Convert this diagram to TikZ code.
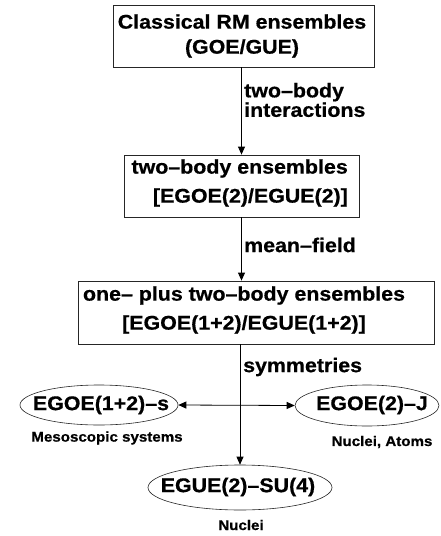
\documentclass[tikz,border=0pt]{standalone}
\usepackage{fontspec}
\setmainfont{Liberation Sans}
\newfontfamily\hv[FakeStretch=1.08, BoldFeatures={FakeBold=0.6}]{Liberation Sans}
\usetikzlibrary{shapes.geometric,arrows.meta}
\tikzset{
  box/.style={draw=black!85, line width=0.8pt, inner sep=0pt},
  ell/.style={draw=black!85, line width=0.6pt, ellipse, inner sep=0pt},
  big/.style={font=\hv\bfseries\fontsize{19.8}{25}\selectfont, align=center, inner sep=0pt},
  small/.style={font=\hv\bfseries\fontsize{14}{15}\selectfont, align=center, inner sep=0pt},
  arr/.style={line width=0.8pt, -{Triangle[length=8pt,width=7pt]}},
  darr/.style={line width=0.8pt, {Triangle[length=8pt,width=7pt]}-{Triangle[length=8pt,width=7pt]}}
}
\begin{document}
\begin{tikzpicture}[x=1pt,y=-1pt]
\useasboundingbox (0,0) rectangle (441,536);
% boxes
\node[box, minimum width=261, minimum height=62] (b1) at (243.5,36) {};
\node[big] (b1t) at (242,36) {Classical RM ensembles\\(GOE/GUE)};
\node[box, minimum width=235, minimum height=62] (b2) at (241.5,186) {};
\node[big, anchor=east, align=right, font=\hv\bfseries\fontsize{19.8}{29}\selectfont] (b2t) at (348,183) {two–body ensembles\\{}[EGOE(2)/EGUE(2)]};
\node[box, minimum width=356, minimum height=63] (b3) at (256,312.5) {};
\node[big, font=\hv\bfseries\fontsize{19.8}{29}\selectfont] (b3t) at (244,310) {one– plus two–body ensembles\\{}[EGOE(1+2)/EGUE(1+2)]};
% ellipses
\node[ell, minimum width=158, minimum height=40] (e1) at (99,405) {};
\node[big] (e1t) at (101,405) {EGOE(1+2)–s};
\node[ell, minimum width=144, minimum height=41] (e2) at (367,405.5) {};
\node[big] (e2t) at (372,405) {EGOE(2)–J};
\node[ell, minimum width=184, minimum height=45] (e3) at (240,487.5) {};
\node[big] (e3t) at (238,487) {EGUE(2)–SU(4)};
% small labels
\node[small] (l1) at (107,438) {Mesoscopic systems};
\node[small] (l2) at (382,442) {Nuclei, Atoms};
\node[small] (l3) at (241,525) {Nuclei};
% connectors
\draw[arr] (b2.north |- b1.south) -- (b2.north);
\draw[arr] (b2.south) -- (b2.south |- b3.north);
\draw[arr] (e3.north |- b3.south) -- (e3.north);
\draw[darr] (e1.east) -- (e2.west);
% connector labels
\node[big, anchor=west, align=left, font=\hv\bfseries\fontsize{19.8}{16}\selectfont] (c1) at (244,100) {two–body\\interactions};
\node[big, anchor=west] (c2) at (244,245) {mean–field};
\node[big, anchor=west] (c3) at (243,367) {symmetries};
\end{tikzpicture}
\end{document}
